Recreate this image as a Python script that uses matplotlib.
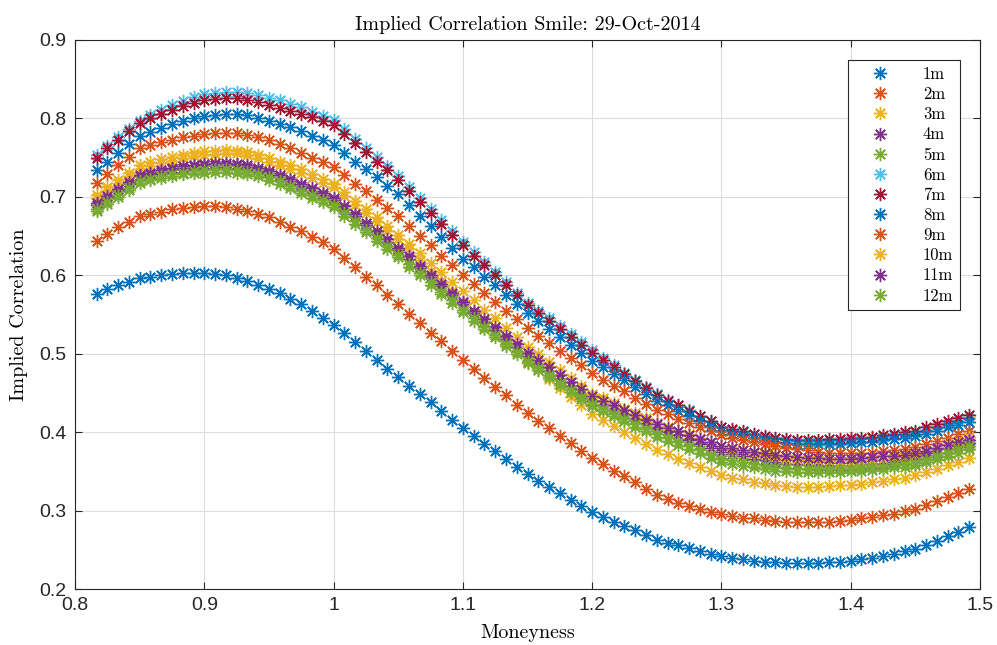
import numpy as np
import matplotlib
matplotlib.use("Agg")
import matplotlib.pyplot as plt

# Moneyness grid (82 strikes, step 1/120 from 0.8167 to 1.4917)
moneyness = np.arange(98, 180) / 120.0

labels = ["1m", "2m", "3m", "4m", "5m", "6m", "7m", "8m", "9m", "10m", "11m", "12m"]

corr_1m = [.576,.582,.587,.592,.596,
 .598,.600,.602,.603,.603,.603,
 .602,.600,.597,.593,.588,.583,
 .577,.570,.563,.555,.546,.537,
 .526,.515,.504,.492,.481,.470,
 .459,.448,.438,.427,.416,.405,
 .395,.385,.376,.366,.356,.346,
 .338,.330,.322,.314,.306,.298,
 .292,.286,.280,.275,.269,.263,
 .259,.256,.252,.249,.245,.242,
 .240,.238,.236,.235,.234,.233,
 .233,.233,.233,.234,.235,.236,
 .238,.240,.242,.245,.248,.251,
 .256,.261,.267,.273,.279]

corr_2m = [.644,.653,.661,.668,.675,
 .678,.681,.684,.686,.687,.688,
 .688,.687,.685,.682,.678,.674,
 .668,.662,.656,.649,.642,.634,
 .622,.610,.598,.587,.575,.563,
 .551,.539,.527,.516,.504,.492,
 .481,.469,.458,.447,.435,.424,
 .414,.405,.395,.386,.376,.367,
 .359,.351,.344,.336,.328,.320,
 .315,.310,.306,.302,.298,.295,
 .293,.291,.290,.288,.287,.286,
 .286,.285,.285,.286,.287,.288,
 .290,.292,.294,.296,.299,.302,
 .307,.312,.317,.322,.328]

corr_3m = [.699,.709,.718,.727,.735,
 .739,.743,.746,.749,.752,.754,
 .755,.756,.756,.753,.749,.745,
 .741,.736,.730,.724,.718,.712,
 .701,.690,.679,.668,.657,.646,
 .633,.620,.606,.593,.580,.567,
 .554,.541,.529,.516,.503,.490,
 .479,.468,.456,.445,.434,.423,
 .415,.408,.400,.392,.385,.377,
 .372,.366,.361,.356,.350,.345,
 .342,.340,.337,.335,.333,.331,
 .330,.330,.330,.331,.332,.333,
 .334,.336,.338,.340,.342,.345,
 .349,.353,.358,.362,.367]

corr_4m = [.690,.699,.708,.717,.726,
 .729,.732,.735,.737,.739,.740,
 .741,.741,.740,.738,.734,.730,
 .725,.720,.714,.708,.702,.696,
 .685,.675,.664,.653,.643,.632,
 .621,.609,.598,.586,.575,.563,
 .552,.541,.530,.519,.508,.497,
 .487,.478,.468,.459,.449,.440,
 .434,.429,.423,.417,.412,.406,
 .401,.396,.390,.385,.380,.375,
 .372,.369,.366,.364,.362,.360,
 .359,.358,.357,.357,.357,.357,
 .358,.359,.360,.362,.364,.366,
 .370,.374,.378,.382,.386]

corr_5m = [.682,.691,.700,.709,.718,
 .721,.724,.727,.729,.730,.731,
 .732,.732,.731,.729,.726,.722,
 .717,.711,.705,.699,.693,.687,
 .676,.666,.655,.644,.634,.623,
 .611,.600,.588,.576,.565,.553,
 .542,.531,.521,.510,.499,.488,
 .479,.470,.460,.451,.442,.433,
 .427,.420,.414,.407,.401,.394,
 .389,.383,.378,.373,.367,.362,
 .359,.357,.355,.353,.351,.350,
 .349,.349,.349,.349,.349,.350,
 .351,.352,.353,.355,.356,.358,
 .362,.366,.370,.374,.379]

corr_6m = [.753,.765,.776,.787,.797,
 .804,.811,.817,.822,.827,.831,
 .833,.834,.834,.833,.830,.826,
 .823,.819,.814,.808,.803,.798,
 .786,.774,.762,.751,.739,.727,
 .713,.699,.685,.671,.657,.643,
 .630,.617,.604,.591,.578,.565,
 .555,.545,.535,.525,.515,.505,
 .495,.486,.476,.467,.457,.448,
 .441,.434,.428,.421,.414,.407,
 .403,.400,.397,.394,.392,.390,
 .389,.388,.388,.388,.389,.390,
 .391,.392,.394,.396,.398,.400,
 .403,.407,.410,.414,.418]

corr_7m = [.750,.762,.773,.784,.794,
 .800,.806,.811,.816,.820,.823,
 .825,.826,.826,.824,.821,.817,
 .813,.810,.806,.802,.797,.792,
 .780,.769,.757,.745,.734,.722,
 .708,.694,.680,.666,.652,.638,
 .625,.613,.600,.587,.575,.562,
 .552,.542,.532,.521,.511,.501,
 .492,.483,.474,.465,.456,.447,
 .440,.434,.427,.420,.414,.407,
 .404,.401,.398,.395,.393,.391,
 .390,.390,.390,.391,.391,.392,
 .393,.394,.396,.398,.400,.402,
 .406,.410,.414,.418,.422]

corr_8m = [.734,.745,.756,.767,.778,
 .783,.788,.793,.797,.800,.803,
 .805,.806,.806,.804,.801,.797,
 .793,.789,.784,.778,.772,.766,
 .756,.745,.735,.725,.714,.704,
 .690,.676,.663,.649,.635,.621,
 .610,.598,.587,.575,.564,.552,
 .542,.532,.521,.511,.501,.491,
 .483,.474,.466,.457,.449,.440,
 .434,.427,.421,.414,.408,.401,
 .398,.395,.392,.390,.388,.386,
 .385,.385,.385,.385,.385,.386,
 .387,.388,.390,.391,.393,.395,
 .398,.402,.406,.409,.413]

corr_9m = [.718,.729,.740,.751,.762,
 .766,.770,.773,.776,.778,.780,
 .781,.782,.781,.779,.776,.772,
 .767,.762,.756,.750,.744,.738,
 .728,.717,.707,.696,.686,.675,
 .663,.650,.638,.625,.613,.600,
 .589,.578,.566,.555,.544,.533,
 .523,.514,.504,.494,.485,.475,
 .467,.459,.452,.444,.436,.428,
 .423,.417,.412,.407,.401,.396,
 .393,.390,.387,.385,.382,.380,
 .378,.377,.375,.374,.373,.373,
 .373,.374,.376,.377,.379,.381,
 .385,.389,.393,.397,.401]

corr_10m = [.702,.712,.721,.731,.740,
 .744,.748,.751,.754,.756,.758,
 .759,.760,.759,.757,.754,.750,
 .745,.740,.735,.729,.723,.717,
 .706,.695,.685,.674,.663,.652,
 .640,.628,.616,.604,.592,.580,
 .568,.556,.545,.533,.521,.509,
 .499,.489,.479,.469,.459,.449,
 .443,.437,.430,.424,.418,.412,
 .407,.402,.397,.392,.387,.382,
 .379,.377,.374,.372,.369,.367,
 .366,.365,.364,.363,.362,.362,
 .363,.364,.366,.368,.370,.372,
 .376,.380,.385,.389,.394]

corr_11m = [.692,.701,.710,.719,.728,
 .731,.734,.737,.739,.741,.742,
 .743,.743,.742,.740,.737,.733,
 .728,.723,.717,.711,.705,.699,
 .688,.678,.667,.656,.646,.635,
 .624,.612,.601,.589,.578,.566,
 .555,.544,.534,.523,.512,.501,
 .492,.483,.473,.464,.455,.446,
 .440,.434,.428,.422,.416,.410,
 .405,.401,.396,.391,.387,.382,
 .380,.377,.375,.373,.371,.369,
 .368,.367,.367,.366,.366,.366,
 .367,.368,.369,.370,.371,.373,
 .376,.380,.383,.387,.390]

corr_12m = [.684,.693,.702,.711,.720,
 .723,.726,.729,.731,.733,.734,
 .735,.735,.734,.732,.729,.725,
 .720,.714,.708,.702,.696,.690,
 .679,.669,.658,.647,.637,.626,
 .614,.603,.591,.579,.568,.556,
 .545,.534,.524,.513,.502,.491,
 .482,.473,.463,.454,.445,.436,
 .430,.423,.417,.411,.404,.398,
 .393,.387,.382,.377,.371,.366,
 .364,.362,.360,.358,.356,.354,
 .353,.353,.353,.353,.353,.353,
 .354,.355,.356,.358,.359,.361,
 .365,.369,.373,.378,.382]

series = [corr_1m, corr_2m, corr_3m, corr_4m, corr_5m, corr_6m,
          corr_7m, corr_8m, corr_9m, corr_10m, corr_11m, corr_12m]

x_ticks = [0.8, 0.9, 1.0, 1.1, 1.2, 1.3, 1.4, 1.5]
x_tick_labels = ["0.8", "0.9", "1", "1.1", "1.2", "1.3", "1.4", "1.5"]
y_ticks = [0.2, 0.3, 0.4, 0.5, 0.6, 0.7, 0.8, 0.9]
y_tick_labels = ["0.2", "0.3", "0.4", "0.5", "0.6", "0.7", "0.8", "0.9"]

colors = ["#0072BD", "#D95319", "#EDB120", "#7E2F8E", "#77AC30", "#4DBEEE", "#A2142F"]

fig = plt.figure(figsize=(9.97, 6.45), dpi=100)
ax = fig.add_axes([75/997, 1-589/645, (980-75)/997, (589-40)/645])

for k, (lab, ys) in enumerate(zip(labels, series)):
    ax.plot(moneyness, ys, linestyle="none", marker=(8, 2, 0), markersize=9.5,
            markeredgewidth=1.0, color=colors[k % len(colors)], label=lab)

ax.set_xlim(0.8, 1.5)
ax.set_ylim(0.2, 0.9)
ax.set_xticks(x_ticks)
ax.set_xticklabels(x_tick_labels)
ax.set_yticks(y_ticks)
ax.set_yticklabels(y_tick_labels)

gray = "#262626"
ax.grid(True, color="#dcdcdc", linewidth=0.8)
ax.set_axisbelow(True)
for sp in ax.spines.values():
    sp.set_color(gray)
    sp.set_linewidth(0.8)
ax.tick_params(direction="in", top=True, right=True, length=5, width=0.8,
               colors=gray, pad=6)
for t in ax.get_xticklabels() + ax.get_yticklabels():
    t.set_family(["Liberation Sans", "DejaVu Sans"])
    t.set_fontsize(14)

serif = ["cmr10", "DejaVu Serif"]
ax.set_title("Implied Correlation Smile: 29-Oct-2014", family=serif, fontsize=14.5, pad=7)
ax.set_xlabel("Moneyness", family=serif, fontsize=14.5, labelpad=7)
ax.set_ylabel("Implied Correlation", family=serif, fontsize=14.5, labelpad=8)

leg = ax.legend(loc="upper right", bbox_to_anchor=((960-75)/905, (589-60)/549),
                borderaxespad=0, fancybox=False, framealpha=1, edgecolor=gray,
                prop={"family": serif, "size": 12}, handlelength=3.0,
                labelspacing=0.29, handletextpad=1.1, borderpad=0.4)
leg.get_frame().set_linewidth(0.8)

fig.savefig("out.png", dpi=100)
